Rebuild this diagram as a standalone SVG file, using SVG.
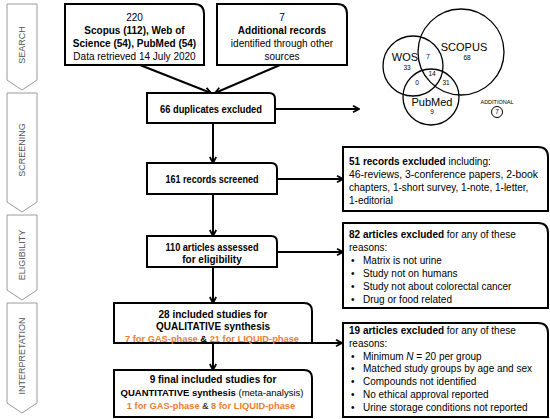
<svg xmlns="http://www.w3.org/2000/svg" width="550" height="419" viewBox="0 0 550 419">
<defs>
<marker id="ah" viewBox="0 0 10 10" refX="9" refY="5" markerWidth="8" markerHeight="8" orient="auto" markerUnits="userSpaceOnUse">
<path d="M1.5,1 L9,5 L1.5,9" fill="none" stroke="#000" stroke-width="2.2" stroke-linejoin="miter"/>
</marker>
<style>
text{font-family:"Liberation Sans",Arial,sans-serif;font-size:10px;fill:#000}
.b{font-weight:bold}
.o{fill:#ed7d31;font-weight:bold}
.box{fill:#fff;stroke:#000;stroke-width:2}
.ph{fill:#fff;stroke:#9a9a9a;stroke-width:1}
.pht{font-size:9px;fill:#555;text-anchor:middle}
.c{text-anchor:middle}
.ln{stroke:#000;stroke-width:2;fill:none;marker-end:url(#ah)}
.v{fill:none;stroke:#000;stroke-width:1.3}
.vs{font-size:6.5px;text-anchor:middle}
.sm{font-size:9.3px}
</style>
</defs>
<rect width="550" height="419" fill="#fff"/>

<g id="phases">
<g id="phase-search"><path class="ph" d="M7,4 H37 V80 L22,90 L7,80 Z"/><text class="pht" transform="translate(25,45) rotate(-90)">SEARCH</text></g>
<g id="phase-screening"><path class="ph" d="M7,93 H37 V202 L22,212 L7,202 Z"/><text class="pht" transform="translate(25,150) rotate(-90)">SCREENING</text></g>
<g id="phase-eligibility"><path class="ph" d="M7,215 H37 V290 L22,300 L7,290 Z"/><text class="pht" transform="translate(25,255) rotate(-90)">ELIGIBILITY</text></g>
<g id="phase-interpretation"><path class="ph" d="M7,303 H37 V403 L22,413 L7,403 Z"/><text class="pht" transform="translate(25,356) rotate(-90)">INTERPRETATION</text></g>
</g>

<g id="connectors">
<line class="ln" x1="140" y1="65" x2="211" y2="93"/>
<line class="ln" x1="280" y1="65" x2="215" y2="93"/>
<line class="ln" x1="275" y1="109" x2="359" y2="109"/>
<line class="ln" x1="213" y1="123" x2="213" y2="163"/>
<line class="ln" x1="277" y1="179" x2="343" y2="179"/>
<line class="ln" x1="213" y1="194" x2="213" y2="236"/>
<line class="ln" x1="277" y1="252" x2="343" y2="252"/>
<line class="ln" x1="213" y1="267" x2="213" y2="303"/>
<line class="ln" x1="312" y1="343" x2="342" y2="343"/>
<line class="ln" x1="213" y1="343" x2="213" y2="370"/>
</g>

<g id="n-search-db">
<path class="box" d="M65,4 H194 Q204,4 204,14 V65 H65 Z"/>
<text class="c" x="134.5" y="21">220</text>
<text class="c b" x="134.5" y="34">Scopus (112), Web of</text>
<text class="c b" x="134.5" y="47">Science (54), PubMed (54)</text>
<text class="c" x="134.5" y="60">Data retrieved 14 July 2020</text>
</g>

<g id="n-search-other">
<path class="box" d="M217,4 H337 Q347,4 347,14 V65 H217 Z"/>
<text class="c" x="282" y="21">7</text>
<text class="c b" x="282" y="34">Additional records</text>
<text class="c" x="282" y="47">identified through other</text>
<text class="c" x="282" y="60">sources</text>
</g>

<g id="n-duplicates">
<path class="box" d="M147,93 H269 Q275,93 275,99 V123 H147 Z"/>
<text class="c b" x="211" y="112.5" textLength="102" lengthAdjust="spacingAndGlyphs">66 duplicates excluded</text>
</g>

<g id="n-screened">
<path class="box" d="M147,163 H271 Q277,163 277,169 V194 H147 Z"/>
<text class="c b" x="212" y="182.5" textLength="93" lengthAdjust="spacingAndGlyphs">161 records screened</text>
</g>

<g id="n-assessed">
<path class="box" d="M147,236 H271 Q277,236 277,242 V267 H147 Z"/>
<text class="c b" x="212" y="250.5" textLength="93" lengthAdjust="spacingAndGlyphs">110 articles assessed</text>
<text class="c b" x="212" y="262.5">for eligibility</text>
</g>

<g id="n-qualitative">
<path class="box" d="M114,303 H304 Q312,303 312,311 V343 H114 Z"/>
<text class="c b" x="213" y="317.5">28 included studies for</text>
<text class="c b" x="213" y="329.5">QUALITATIVE synthesis</text>
<text class="c sm" x="212" y="341.5"><tspan class="o">7 for GAS-phase</tspan><tspan class="b"> &amp; </tspan><tspan class="o">21 for LIQUID-phase</tspan></text>
</g>

<g id="n-quantitative">
<path class="box" d="M114,370 H304 Q312,370 312,378 V417 H114 Z"/>
<text class="c b" x="213" y="382.5">9 final included studies for</text>
<text class="c" x="212" y="395.5" style="font-size:9.5px"><tspan class="b">QUANTITATIVE synthesis</tspan> (meta-analysis)</text>
<text class="c sm" x="211" y="408.5"><tspan class="o">1 for GAS-phase</tspan> &amp; <tspan class="o">8 for LIQUID-phase</tspan></text>
</g>

<g id="n-excl-records">
<path class="box" d="M343,147 H538 Q548,147 548,157 V211 H343 Z"/>
<text x="349" y="164.5"><tspan class="b">51 records excluded</tspan> including:</text>
<text x="349" y="177.5" textLength="189" lengthAdjust="spacingAndGlyphs">46-reviews, 3-conference papers, 2-book</text>
<text x="349" y="190.5">chapters, 1-short survey, 1-note, 1-letter,</text>
<text x="349" y="203.5">1-editorial</text>
</g>

<g id="n-excl-articles">
<path class="box" d="M343,223 H538 Q548,223 548,233 V308 H343 Z"/>
<text x="349" y="237.5"><tspan class="b">82 articles excluded</tspan> for any of these</text>
<text x="349" y="250.5">reasons:</text>
<text x="351" y="263.5">•</text><text x="363" y="263.5">Matrix is not urine</text>
<text x="351" y="276.5">•</text><text x="363" y="276.5">Study not on humans</text>
<text x="351" y="289.5">•</text><text x="363" y="289.5">Study not about colorectal cancer</text>
<text x="351" y="302.5">•</text><text x="363" y="302.5">Drug or food related</text>
</g>

<g id="n-excl-studies">
<path class="box" d="M343,323 H538 Q548,323 548,333 V417 H343 Z"/>
<text x="349" y="333.5"><tspan class="b">19 articles excluded</tspan> for any of these</text>
<text x="349" y="346.5">reasons:</text>
<text x="351" y="359.5">•</text><text x="363" y="359.5">Minimum <tspan font-style="italic">N</tspan> = 20 per group</text>
<text x="351" y="372">•</text><text x="363" y="372">Matched study groups by age and sex</text>
<text x="351" y="384.5">•</text><text x="363" y="384.5">Compounds not identified</text>
<text x="351" y="397.5">•</text><text x="363" y="397.5">No ethical approval reported</text>
<text x="351" y="410.5">•</text><text x="363" y="410.5">Urine storage conditions not reported</text>
</g>

<g id="n-venn">
<circle class="v" cx="413" cy="66" r="30"/>
<circle class="v" cx="461" cy="52" r="43"/>
<circle class="v" cx="431" cy="97" r="28"/>
<text class="c" x="405" y="61" style="font-size:11px">WOS</text>
<text class="c" x="464" y="51" style="font-size:11px">SCOPUS</text>
<text class="c" x="432" y="106" style="font-size:11px">PubMed</text>
<text class="vs" x="467" y="60">68</text>
<text class="vs" x="428" y="59">7</text>
<text class="vs" x="407" y="70">33</text>
<text class="vs" x="432" y="76">14</text>
<text class="vs" x="417" y="85">0</text>
<text class="vs" x="446" y="85">31</text>
<text class="vs" x="432" y="114">9</text>
<text class="vs" x="497" y="104" style="font-size:5.5px">ADDITIONAL</text>
<circle class="v" cx="497" cy="112" r="5.5" style="stroke-width:1"/>
<text class="vs" x="497" y="114.3">7</text>
</g>
</svg>
